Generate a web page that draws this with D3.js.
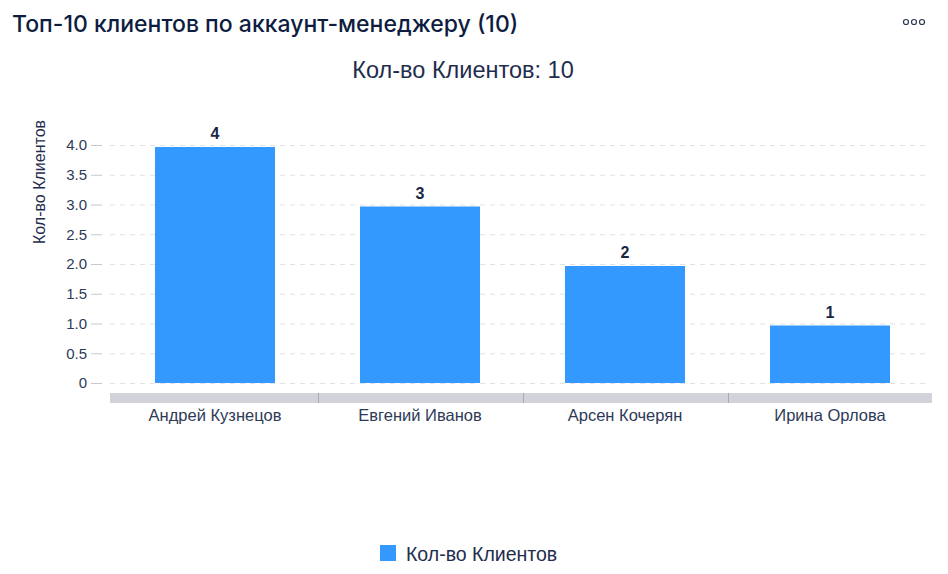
<!DOCTYPE html>
<html>
<head>
<meta charset="utf-8">
<script src="https://cdn.jsdelivr.net/npm/d3@7"></script>
<style>
  body { margin: 0; background: #fff; font-family: "Liberation Sans", Arial, sans-serif; overflow: hidden; }
</style>
</head>
<body>
<div id="chart"></div>
<script>
var managers = ['Андрей Кузнецов', 'Евгений Иванов', 'Арсен Кочерян', 'Ирина Орлова'];
var clientCounts = [4, 3, 2, 1];
var yTicks = [0, 0.5, 1, 1.5, 2, 2.5, 3, 3.5, 4];
var seriesName = 'Кол-во Клиентов';
var chartTitle = 'Топ-10 клиентов по аккаунт-менеджеру (10)';
var subTitle = 'Кол-во Клиентов: 10';

var svg = d3.select('#chart').append('svg')
  .attr('width', 948)
  .attr('height', 574);

var plot = {l: 112.5, r: 932.5, t: 145, b: 383};

var x = d3.scaleBand().domain(managers).range([plot.l, plot.r]);
var y = d3.scaleLinear().domain([0, 4]).range([plot.b, plot.t]);

// header
svg.append('text')
  .attr('x', 12).attr('y', 32)
  .attr('font-family', 'Inter, Roboto, sans-serif')
  .attr('font-size', 23).attr('font-weight', 500)
  .attr('fill', '#0e1d3f')
  .text(chartTitle);

svg.selectAll('.dot').data([0, 1, 2])
  .enter().append('circle')
  .attr('cx', function(d) { return 906 + d * 8; })
  .attr('cy', 22).attr('r', 2.5)
  .attr('fill', 'none').attr('stroke', '#2a3650').attr('stroke-width', 1.2);

svg.append('text')
  .attr('x', 463).attr('y', 78)
  .attr('text-anchor', 'middle')
  .attr('font-size', 23.5)
  .attr('fill', '#1f2d4d')
  .text(subTitle);

// grid lines
svg.append('g').selectAll('line').data(yTicks)
  .enter().append('line')
  .attr('x1', 110).attr('x2', 928)
  .attr('y1', function(d) { return y(d) + 0.5; })
  .attr('y2', function(d) { return y(d) + 0.5; })
  .attr('stroke', '#e2e2e6').attr('stroke-dasharray', '5,5');

// y axis
var yAxis = svg.append('g')
  .attr('transform', 'translate(102,0)')
  .call(d3.axisLeft(y).tickValues(yTicks).tickSize(11).tickPadding(4)
    .tickFormat(function(d) { return d === 0 ? '0' : d3.format('.1f')(d); }));
yAxis.select('.domain').remove();
yAxis.selectAll('line').attr('stroke', '#c8c8d0');
yAxis.selectAll('text')
  .attr('font-size', 15).attr('fill', '#2e3a57')
  .attr('font-family', '"Liberation Sans", Arial, sans-serif');

svg.append('text')
  .attr('transform', 'translate(45,182) rotate(-90)')
  .attr('text-anchor', 'middle')
  .attr('font-size', 16).attr('fill', '#1f2d4d')
  .text(seriesName);

// x axis band
svg.append('rect')
  .attr('x', 110).attr('y', 393)
  .attr('width', 822).attr('height', 10)
  .attr('fill', '#d2d2da');

svg.append('g').selectAll('line').data(managers.slice(1))
  .enter().append('line')
  .attr('x1', function(d) { return Math.round(x(d)) + 0.5; })
  .attr('x2', function(d) { return Math.round(x(d)) + 0.5; })
  .attr('y1', 393).attr('y2', 403)
  .attr('stroke', '#a9a9b5').attr('stroke-width', 1);

svg.append('g').selectAll('text').data(managers)
  .enter().append('text')
  .attr('x', function(d) { return x(d) + x.bandwidth() / 2; })
  .attr('y', 421)
  .attr('text-anchor', 'middle')
  .attr('font-size', 16.5).attr('fill', '#2e3a57')
  .text(function(d) { return d; });

// bars
var barW = 120;
svg.append('g').selectAll('rect').data(clientCounts)
  .enter().append('rect')
  .attr('x', function(d, i) { return Math.round(x(managers[i]) + x.bandwidth() / 2 - barW / 2); })
  .attr('y', function(d) { return y(d) + 2; })
  .attr('width', barW)
  .attr('height', function(d) { return y(0) - y(d) - 2; })
  .attr('fill', '#3399ff');

svg.append('g').selectAll('text').data(clientCounts)
  .enter().append('text')
  .attr('x', function(d, i) { return x(managers[i]) + x.bandwidth() / 2; })
  .attr('y', function(d) { return y(d) - 6; })
  .attr('text-anchor', 'middle')
  .attr('font-size', 16).attr('font-weight', 'bold')
  .attr('fill', '#1a2744')
  .text(function(d) { return d; });

// legend
svg.append('rect')
  .attr('x', 380).attr('y', 545)
  .attr('width', 16).attr('height', 16)
  .attr('fill', '#3399ff');
svg.append('text')
  .attr('x', 406).attr('y', 561)
  .attr('font-size', 19.5).attr('fill', '#1f2d4d')
  .text(seriesName);
</script>
</body>
</html>
